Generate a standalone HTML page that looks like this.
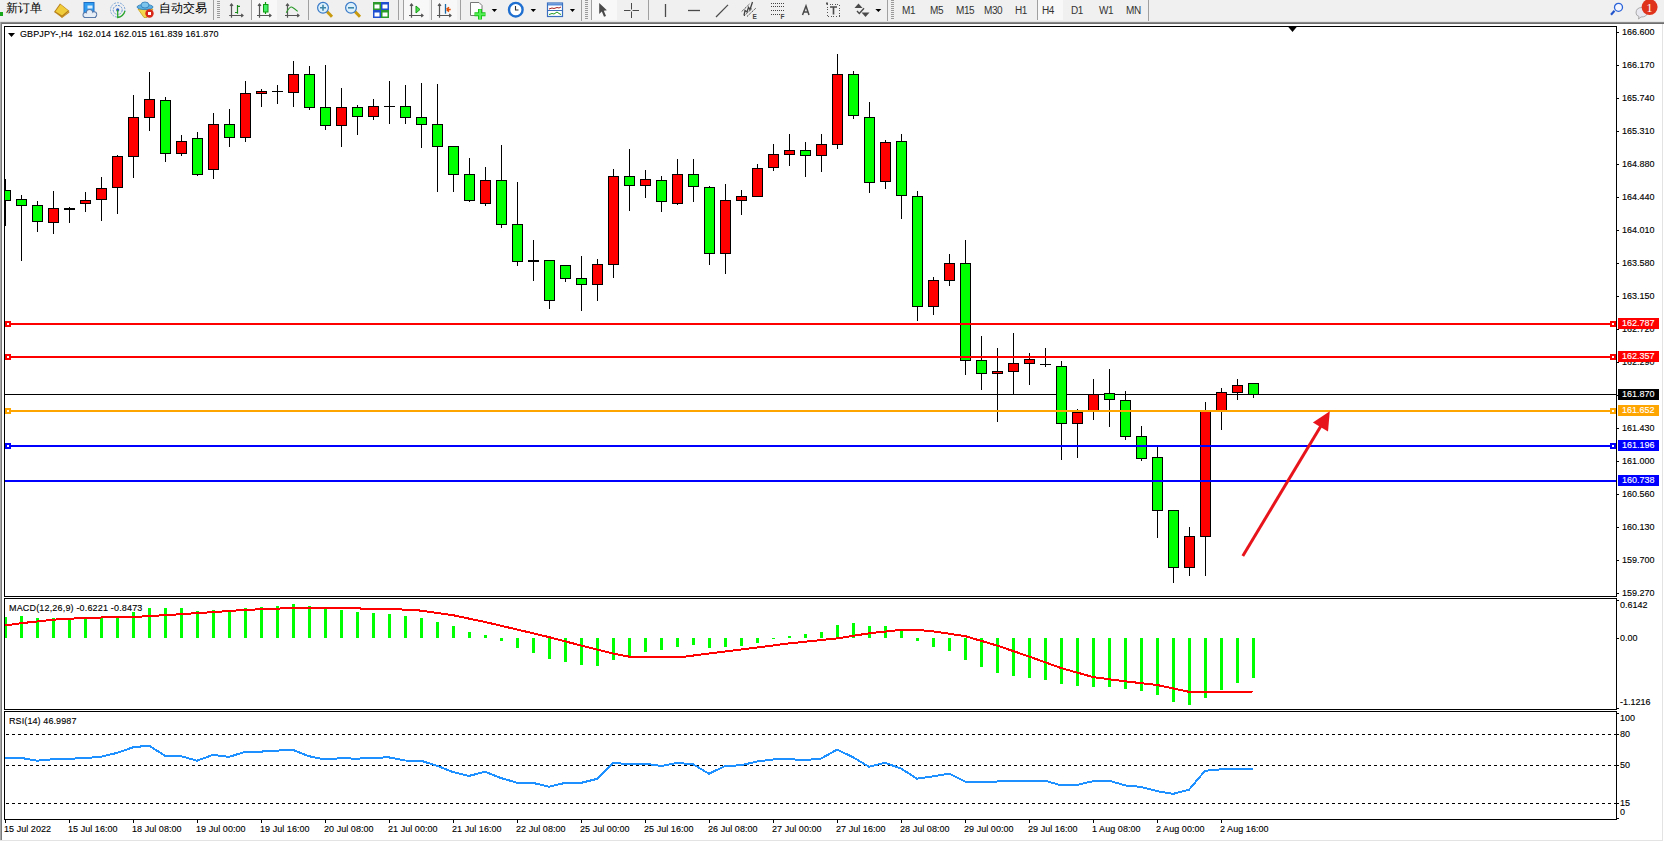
<!DOCTYPE html>
<html><head><meta charset="utf-8"><style>
html,body{margin:0;padding:0;}
body{width:1664px;height:842px;position:relative;overflow:hidden;background:#fff;font-family:"Liberation Sans",sans-serif;}
.t{position:absolute;white-space:nowrap;font-size:9px;line-height:12px;color:#000;-webkit-text-stroke:0.12px currentColor;transform:scaleY(1.06);transform-origin:0 0;}
.tag{position:absolute;left:1618px;width:41px;height:11px;font-size:10px;line-height:11px;letter-spacing:-0.5px;text-align:left;padding-left:4px;-webkit-text-stroke:0.25px currentColor;box-sizing:border-box;white-space:nowrap;}
#tb{position:absolute;left:0;top:0;width:1664px;height:22px;background:#F0F0F0;}
.tt{position:absolute;top:5px;font-size:10px;line-height:12px;letter-spacing:-0.4px;color:#333;white-space:nowrap;}
</style></head><body>
<div style="position:absolute;left:0;top:22px;width:1664px;height:1px;background:#8a8a8a"></div>
<div style="position:absolute;left:0;top:23px;width:1664px;height:1px;background:#6e6e6e"></div>
<div style="position:absolute;left:0;top:22px;width:1px;height:818px;background:#a8a8a8"></div>
<div style="position:absolute;left:1px;top:23px;width:1px;height:817px;background:#7a7a7a"></div>
<div style="position:absolute;left:1662px;top:24px;width:1px;height:817px;background:#e3e3e3"></div>
<div style="position:absolute;left:0;top:840px;width:1663px;height:1px;background:#e3e3e3"></div>
<svg width="1664" height="842" style="position:absolute;left:0;top:0">
<defs><clipPath id="cm"><rect x="5" y="27" width="1611" height="569"/></clipPath><clipPath id="cd"><rect x="5" y="599" width="1611" height="110"/></clipPath><clipPath id="cr"><rect x="5" y="712" width="1611" height="107"/></clipPath></defs>
<rect x="4.5" y="26.5" width="1612" height="570" fill="#fff" stroke="#000" stroke-width="1"/>
<rect x="4.5" y="598.5" width="1612" height="111" fill="#fff" stroke="#000" stroke-width="1"/>
<rect x="4.5" y="711.5" width="1612" height="108" fill="#fff" stroke="#000" stroke-width="1"/>
<g clip-path="url(#cm)" shape-rendering="crispEdges">
<rect x="5" y="394" width="1611" height="1" fill="#000"/>
<rect x="5" y="179" width="1" height="47" fill="#000"/>
<rect x="0" y="190" width="11" height="11" fill="#000"/>
<rect x="1" y="191" width="9" height="9" fill="#00FF00"/>
<rect x="21" y="195" width="1" height="66" fill="#000"/>
<rect x="16" y="199" width="11" height="7" fill="#000"/>
<rect x="17" y="200" width="9" height="5" fill="#00FF00"/>
<rect x="37" y="201" width="1" height="31" fill="#000"/>
<rect x="32" y="205" width="11" height="17" fill="#000"/>
<rect x="33" y="206" width="9" height="15" fill="#00FF00"/>
<rect x="53" y="191" width="1" height="43" fill="#000"/>
<rect x="48" y="208" width="11" height="15" fill="#000"/>
<rect x="49" y="209" width="9" height="13" fill="#FF0000"/>
<rect x="69" y="207" width="1" height="16" fill="#000"/>
<rect x="64" y="208" width="11" height="2" fill="#000"/>
<rect x="85" y="192" width="1" height="20" fill="#000"/>
<rect x="80" y="200" width="11" height="4" fill="#000"/>
<rect x="81" y="201" width="9" height="2" fill="#FF0000"/>
<rect x="101" y="177" width="1" height="44" fill="#000"/>
<rect x="96" y="188" width="11" height="12" fill="#000"/>
<rect x="97" y="189" width="9" height="10" fill="#FF0000"/>
<rect x="117" y="155" width="1" height="59" fill="#000"/>
<rect x="112" y="156" width="11" height="32" fill="#000"/>
<rect x="113" y="157" width="9" height="30" fill="#FF0000"/>
<rect x="133" y="95" width="1" height="83" fill="#000"/>
<rect x="128" y="117" width="11" height="40" fill="#000"/>
<rect x="129" y="118" width="9" height="38" fill="#FF0000"/>
<rect x="149" y="72" width="1" height="59" fill="#000"/>
<rect x="144" y="99" width="11" height="19" fill="#000"/>
<rect x="145" y="100" width="9" height="17" fill="#FF0000"/>
<rect x="165" y="97" width="1" height="65" fill="#000"/>
<rect x="160" y="100" width="11" height="54" fill="#000"/>
<rect x="161" y="101" width="9" height="52" fill="#00FF00"/>
<rect x="181" y="135" width="1" height="21" fill="#000"/>
<rect x="176" y="141" width="11" height="13" fill="#000"/>
<rect x="177" y="142" width="9" height="11" fill="#FF0000"/>
<rect x="197" y="132" width="1" height="44" fill="#000"/>
<rect x="192" y="138" width="11" height="37" fill="#000"/>
<rect x="193" y="139" width="9" height="35" fill="#00FF00"/>
<rect x="213" y="113" width="1" height="66" fill="#000"/>
<rect x="208" y="124" width="11" height="46" fill="#000"/>
<rect x="209" y="125" width="9" height="44" fill="#FF0000"/>
<rect x="229" y="109" width="1" height="38" fill="#000"/>
<rect x="224" y="124" width="11" height="14" fill="#000"/>
<rect x="225" y="125" width="9" height="12" fill="#00FF00"/>
<rect x="245" y="81" width="1" height="61" fill="#000"/>
<rect x="240" y="93" width="11" height="45" fill="#000"/>
<rect x="241" y="94" width="9" height="43" fill="#FF0000"/>
<rect x="261" y="89" width="1" height="18" fill="#000"/>
<rect x="256" y="91" width="11" height="3" fill="#000"/>
<rect x="257" y="92" width="9" height="1" fill="#FF0000"/>
<rect x="277" y="85" width="1" height="19" fill="#000"/>
<rect x="272" y="91" width="11" height="1" fill="#000"/>
<rect x="293" y="61" width="1" height="46" fill="#000"/>
<rect x="288" y="74" width="11" height="19" fill="#000"/>
<rect x="289" y="75" width="9" height="17" fill="#FF0000"/>
<rect x="309" y="66" width="1" height="44" fill="#000"/>
<rect x="304" y="74" width="11" height="34" fill="#000"/>
<rect x="305" y="75" width="9" height="32" fill="#00FF00"/>
<rect x="325" y="65" width="1" height="65" fill="#000"/>
<rect x="320" y="107" width="11" height="19" fill="#000"/>
<rect x="321" y="108" width="9" height="17" fill="#00FF00"/>
<rect x="341" y="88" width="1" height="59" fill="#000"/>
<rect x="336" y="107" width="11" height="19" fill="#000"/>
<rect x="337" y="108" width="9" height="17" fill="#FF0000"/>
<rect x="357" y="105" width="1" height="30" fill="#000"/>
<rect x="352" y="107" width="11" height="10" fill="#000"/>
<rect x="353" y="108" width="9" height="8" fill="#00FF00"/>
<rect x="373" y="99" width="1" height="21" fill="#000"/>
<rect x="368" y="106" width="11" height="11" fill="#000"/>
<rect x="369" y="107" width="9" height="9" fill="#FF0000"/>
<rect x="389" y="81" width="1" height="43" fill="#000"/>
<rect x="384" y="106" width="11" height="1" fill="#000"/>
<rect x="405" y="85" width="1" height="39" fill="#000"/>
<rect x="400" y="106" width="11" height="12" fill="#000"/>
<rect x="401" y="107" width="9" height="10" fill="#00FF00"/>
<rect x="421" y="83" width="1" height="65" fill="#000"/>
<rect x="416" y="117" width="11" height="8" fill="#000"/>
<rect x="417" y="118" width="9" height="6" fill="#00FF00"/>
<rect x="437" y="84" width="1" height="108" fill="#000"/>
<rect x="432" y="124" width="11" height="23" fill="#000"/>
<rect x="433" y="125" width="9" height="21" fill="#00FF00"/>
<rect x="453" y="146" width="1" height="46" fill="#000"/>
<rect x="448" y="146" width="11" height="29" fill="#000"/>
<rect x="449" y="147" width="9" height="27" fill="#00FF00"/>
<rect x="469" y="158" width="1" height="44" fill="#000"/>
<rect x="464" y="174" width="11" height="27" fill="#000"/>
<rect x="465" y="175" width="9" height="25" fill="#00FF00"/>
<rect x="485" y="167" width="1" height="39" fill="#000"/>
<rect x="480" y="180" width="11" height="24" fill="#000"/>
<rect x="481" y="181" width="9" height="22" fill="#FF0000"/>
<rect x="501" y="145" width="1" height="83" fill="#000"/>
<rect x="496" y="180" width="11" height="45" fill="#000"/>
<rect x="497" y="181" width="9" height="43" fill="#00FF00"/>
<rect x="517" y="182" width="1" height="84" fill="#000"/>
<rect x="512" y="224" width="11" height="38" fill="#000"/>
<rect x="513" y="225" width="9" height="36" fill="#00FF00"/>
<rect x="533" y="240" width="1" height="41" fill="#000"/>
<rect x="528" y="260" width="11" height="2" fill="#000"/>
<rect x="549" y="260" width="1" height="49" fill="#000"/>
<rect x="544" y="260" width="11" height="41" fill="#000"/>
<rect x="545" y="261" width="9" height="39" fill="#00FF00"/>
<rect x="565" y="265" width="1" height="17" fill="#000"/>
<rect x="560" y="265" width="11" height="14" fill="#000"/>
<rect x="561" y="266" width="9" height="12" fill="#00FF00"/>
<rect x="581" y="256" width="1" height="55" fill="#000"/>
<rect x="576" y="278" width="11" height="7" fill="#000"/>
<rect x="577" y="279" width="9" height="5" fill="#00FF00"/>
<rect x="597" y="259" width="1" height="42" fill="#000"/>
<rect x="592" y="264" width="11" height="21" fill="#000"/>
<rect x="593" y="265" width="9" height="19" fill="#FF0000"/>
<rect x="613" y="169" width="1" height="109" fill="#000"/>
<rect x="608" y="176" width="11" height="89" fill="#000"/>
<rect x="609" y="177" width="9" height="87" fill="#FF0000"/>
<rect x="629" y="149" width="1" height="62" fill="#000"/>
<rect x="624" y="176" width="11" height="10" fill="#000"/>
<rect x="625" y="177" width="9" height="8" fill="#00FF00"/>
<rect x="645" y="170" width="1" height="28" fill="#000"/>
<rect x="640" y="179" width="11" height="7" fill="#000"/>
<rect x="641" y="180" width="9" height="5" fill="#FF0000"/>
<rect x="661" y="176" width="1" height="36" fill="#000"/>
<rect x="656" y="180" width="11" height="22" fill="#000"/>
<rect x="657" y="181" width="9" height="20" fill="#00FF00"/>
<rect x="677" y="159" width="1" height="46" fill="#000"/>
<rect x="672" y="174" width="11" height="30" fill="#000"/>
<rect x="673" y="175" width="9" height="28" fill="#FF0000"/>
<rect x="693" y="159" width="1" height="43" fill="#000"/>
<rect x="688" y="174" width="11" height="13" fill="#000"/>
<rect x="689" y="175" width="9" height="11" fill="#00FF00"/>
<rect x="709" y="186" width="1" height="79" fill="#000"/>
<rect x="704" y="187" width="11" height="67" fill="#000"/>
<rect x="705" y="188" width="9" height="65" fill="#00FF00"/>
<rect x="725" y="184" width="1" height="90" fill="#000"/>
<rect x="720" y="200" width="11" height="54" fill="#000"/>
<rect x="721" y="201" width="9" height="52" fill="#FF0000"/>
<rect x="741" y="190" width="1" height="25" fill="#000"/>
<rect x="736" y="196" width="11" height="5" fill="#000"/>
<rect x="737" y="197" width="9" height="3" fill="#FF0000"/>
<rect x="757" y="164" width="1" height="33" fill="#000"/>
<rect x="752" y="168" width="11" height="29" fill="#000"/>
<rect x="753" y="169" width="9" height="27" fill="#FF0000"/>
<rect x="773" y="144" width="1" height="27" fill="#000"/>
<rect x="768" y="154" width="11" height="14" fill="#000"/>
<rect x="769" y="155" width="9" height="12" fill="#FF0000"/>
<rect x="789" y="134" width="1" height="32" fill="#000"/>
<rect x="784" y="150" width="11" height="5" fill="#000"/>
<rect x="785" y="151" width="9" height="3" fill="#FF0000"/>
<rect x="805" y="142" width="1" height="35" fill="#000"/>
<rect x="800" y="150" width="11" height="6" fill="#000"/>
<rect x="801" y="151" width="9" height="4" fill="#00FF00"/>
<rect x="821" y="134" width="1" height="38" fill="#000"/>
<rect x="816" y="144" width="11" height="12" fill="#000"/>
<rect x="817" y="145" width="9" height="10" fill="#FF0000"/>
<rect x="837" y="54" width="1" height="95" fill="#000"/>
<rect x="832" y="74" width="11" height="71" fill="#000"/>
<rect x="833" y="75" width="9" height="69" fill="#FF0000"/>
<rect x="853" y="71" width="1" height="48" fill="#000"/>
<rect x="848" y="74" width="11" height="42" fill="#000"/>
<rect x="849" y="75" width="9" height="40" fill="#00FF00"/>
<rect x="869" y="102" width="1" height="91" fill="#000"/>
<rect x="864" y="117" width="11" height="66" fill="#000"/>
<rect x="865" y="118" width="9" height="64" fill="#00FF00"/>
<rect x="885" y="140" width="1" height="49" fill="#000"/>
<rect x="880" y="142" width="11" height="40" fill="#000"/>
<rect x="881" y="143" width="9" height="38" fill="#FF0000"/>
<rect x="901" y="134" width="1" height="85" fill="#000"/>
<rect x="896" y="141" width="11" height="55" fill="#000"/>
<rect x="897" y="142" width="9" height="53" fill="#00FF00"/>
<rect x="917" y="191" width="1" height="130" fill="#000"/>
<rect x="912" y="196" width="11" height="111" fill="#000"/>
<rect x="913" y="197" width="9" height="109" fill="#00FF00"/>
<rect x="933" y="277" width="1" height="38" fill="#000"/>
<rect x="928" y="280" width="11" height="27" fill="#000"/>
<rect x="929" y="281" width="9" height="25" fill="#FF0000"/>
<rect x="949" y="254" width="1" height="32" fill="#000"/>
<rect x="944" y="263" width="11" height="18" fill="#000"/>
<rect x="945" y="264" width="9" height="16" fill="#FF0000"/>
<rect x="965" y="240" width="1" height="135" fill="#000"/>
<rect x="960" y="263" width="11" height="98" fill="#000"/>
<rect x="961" y="264" width="9" height="96" fill="#00FF00"/>
<rect x="981" y="336" width="1" height="54" fill="#000"/>
<rect x="976" y="360" width="11" height="14" fill="#000"/>
<rect x="977" y="361" width="9" height="12" fill="#00FF00"/>
<rect x="997" y="348" width="1" height="74" fill="#000"/>
<rect x="992" y="371" width="11" height="3" fill="#000"/>
<rect x="993" y="372" width="9" height="1" fill="#FF0000"/>
<rect x="1013" y="333" width="1" height="62" fill="#000"/>
<rect x="1008" y="363" width="11" height="9" fill="#000"/>
<rect x="1009" y="364" width="9" height="7" fill="#FF0000"/>
<rect x="1029" y="353" width="1" height="32" fill="#000"/>
<rect x="1024" y="359" width="11" height="5" fill="#000"/>
<rect x="1025" y="360" width="9" height="3" fill="#FF0000"/>
<rect x="1045" y="348" width="1" height="19" fill="#000"/>
<rect x="1040" y="364" width="11" height="1" fill="#000"/>
<rect x="1061" y="361" width="1" height="99" fill="#000"/>
<rect x="1056" y="366" width="11" height="58" fill="#000"/>
<rect x="1057" y="367" width="9" height="56" fill="#00FF00"/>
<rect x="1077" y="409" width="1" height="49" fill="#000"/>
<rect x="1072" y="412" width="11" height="12" fill="#000"/>
<rect x="1073" y="413" width="9" height="10" fill="#FF0000"/>
<rect x="1093" y="379" width="1" height="41" fill="#000"/>
<rect x="1088" y="394" width="11" height="17" fill="#000"/>
<rect x="1089" y="395" width="9" height="15" fill="#FF0000"/>
<rect x="1109" y="369" width="1" height="58" fill="#000"/>
<rect x="1104" y="393" width="11" height="7" fill="#000"/>
<rect x="1105" y="394" width="9" height="5" fill="#00FF00"/>
<rect x="1125" y="391" width="1" height="49" fill="#000"/>
<rect x="1120" y="400" width="11" height="37" fill="#000"/>
<rect x="1121" y="401" width="9" height="35" fill="#00FF00"/>
<rect x="1141" y="426" width="1" height="35" fill="#000"/>
<rect x="1136" y="436" width="11" height="23" fill="#000"/>
<rect x="1137" y="437" width="9" height="21" fill="#00FF00"/>
<rect x="1157" y="447" width="1" height="91" fill="#000"/>
<rect x="1152" y="457" width="11" height="54" fill="#000"/>
<rect x="1153" y="458" width="9" height="52" fill="#00FF00"/>
<rect x="1173" y="510" width="1" height="73" fill="#000"/>
<rect x="1168" y="510" width="11" height="58" fill="#000"/>
<rect x="1169" y="511" width="9" height="56" fill="#00FF00"/>
<rect x="1189" y="527" width="1" height="49" fill="#000"/>
<rect x="1184" y="536" width="11" height="32" fill="#000"/>
<rect x="1185" y="537" width="9" height="30" fill="#FF0000"/>
<rect x="1205" y="402" width="1" height="174" fill="#000"/>
<rect x="1200" y="411" width="11" height="126" fill="#000"/>
<rect x="1201" y="412" width="9" height="124" fill="#FF0000"/>
<rect x="1221" y="388" width="1" height="42" fill="#000"/>
<rect x="1216" y="392" width="11" height="19" fill="#000"/>
<rect x="1217" y="393" width="9" height="17" fill="#FF0000"/>
<rect x="1237" y="379" width="1" height="21" fill="#000"/>
<rect x="1232" y="385" width="11" height="8" fill="#000"/>
<rect x="1233" y="386" width="9" height="6" fill="#FF0000"/>
<rect x="1253" y="383" width="1" height="15" fill="#000"/>
<rect x="1248" y="383" width="11" height="12" fill="#000"/>
<rect x="1249" y="384" width="9" height="10" fill="#00FF00"/>
<rect x="5" y="323" width="1611" height="2" fill="#FF0000"/>
<rect x="5" y="356" width="1611" height="2" fill="#FF0000"/>
<rect x="5" y="410" width="1611" height="2" fill="#FFA500"/>
<rect x="5" y="445" width="1611" height="2" fill="#0000FF"/>
<rect x="5" y="480" width="1611" height="2" fill="#0000FF"/>
<rect x="5" y="321" width="6" height="6" fill="#FF0000"/><rect x="7" y="323" width="2" height="2" fill="#fff"/>
<rect x="1610" y="321" width="6" height="6" fill="#FF0000"/><rect x="1612" y="323" width="2" height="2" fill="#fff"/>
<rect x="5" y="354" width="6" height="6" fill="#FF0000"/><rect x="7" y="356" width="2" height="2" fill="#fff"/>
<rect x="1610" y="354" width="6" height="6" fill="#FF0000"/><rect x="1612" y="356" width="2" height="2" fill="#fff"/>
<rect x="5" y="408" width="6" height="6" fill="#FFA500"/><rect x="7" y="410" width="2" height="2" fill="#fff"/>
<rect x="1610" y="408" width="6" height="6" fill="#FFA500"/><rect x="1612" y="410" width="2" height="2" fill="#fff"/>
<rect x="5" y="443" width="6" height="6" fill="#0000FF"/><rect x="7" y="445" width="2" height="2" fill="#fff"/>
<rect x="1610" y="443" width="6" height="6" fill="#0000FF"/><rect x="1612" y="445" width="2" height="2" fill="#fff"/>
</g>
<polygon points="1287.5,26 1297.5,26 1292.5,32" fill="#000"/>
<g clip-path="url(#cm)">
<line x1="1242.8" y1="556" x2="1321.5" y2="425" stroke="#E8141C" stroke-width="3"/>
<polygon points="1329.8,411.2 1312.9,422.4 1328,431.5" fill="#E8141C"/>
</g>
<polygon points="8,33 15,33 11.5,37" fill="#000"/>
<g clip-path="url(#cd)">
<g shape-rendering="crispEdges">
<rect x="4" y="617" width="3" height="21" fill="#00FF00"/>
<rect x="20" y="616" width="3" height="22" fill="#00FF00"/>
<rect x="36" y="618" width="3" height="20" fill="#00FF00"/>
<rect x="52" y="618" width="3" height="20" fill="#00FF00"/>
<rect x="68" y="620" width="3" height="18" fill="#00FF00"/>
<rect x="84" y="619" width="3" height="19" fill="#00FF00"/>
<rect x="100" y="618" width="3" height="20" fill="#00FF00"/>
<rect x="116" y="616" width="3" height="22" fill="#00FF00"/>
<rect x="132" y="612" width="3" height="26" fill="#00FF00"/>
<rect x="148" y="608" width="3" height="30" fill="#00FF00"/>
<rect x="164" y="608" width="3" height="30" fill="#00FF00"/>
<rect x="180" y="608" width="3" height="30" fill="#00FF00"/>
<rect x="196" y="611" width="3" height="27" fill="#00FF00"/>
<rect x="212" y="610" width="3" height="28" fill="#00FF00"/>
<rect x="228" y="611" width="3" height="27" fill="#00FF00"/>
<rect x="244" y="608" width="3" height="30" fill="#00FF00"/>
<rect x="260" y="607" width="3" height="31" fill="#00FF00"/>
<rect x="276" y="606" width="3" height="32" fill="#00FF00"/>
<rect x="292" y="604" width="3" height="34" fill="#00FF00"/>
<rect x="308" y="606" width="3" height="32" fill="#00FF00"/>
<rect x="324" y="608" width="3" height="30" fill="#00FF00"/>
<rect x="340" y="610" width="3" height="28" fill="#00FF00"/>
<rect x="356" y="612" width="3" height="26" fill="#00FF00"/>
<rect x="372" y="613" width="3" height="25" fill="#00FF00"/>
<rect x="388" y="614" width="3" height="24" fill="#00FF00"/>
<rect x="404" y="616" width="3" height="22" fill="#00FF00"/>
<rect x="420" y="618" width="3" height="20" fill="#00FF00"/>
<rect x="436" y="622" width="3" height="16" fill="#00FF00"/>
<rect x="452" y="626" width="3" height="12" fill="#00FF00"/>
<rect x="468" y="632" width="3" height="6" fill="#00FF00"/>
<rect x="484" y="635" width="3" height="3" fill="#00FF00"/>
<rect x="500" y="638" width="3" height="3" fill="#00FF00"/>
<rect x="516" y="638" width="3" height="10" fill="#00FF00"/>
<rect x="532" y="638" width="3" height="15" fill="#00FF00"/>
<rect x="548" y="638" width="3" height="21" fill="#00FF00"/>
<rect x="564" y="638" width="3" height="24" fill="#00FF00"/>
<rect x="580" y="638" width="3" height="27" fill="#00FF00"/>
<rect x="596" y="638" width="3" height="28" fill="#00FF00"/>
<rect x="612" y="638" width="3" height="22" fill="#00FF00"/>
<rect x="628" y="638" width="3" height="18" fill="#00FF00"/>
<rect x="644" y="638" width="3" height="14" fill="#00FF00"/>
<rect x="660" y="638" width="3" height="12" fill="#00FF00"/>
<rect x="676" y="638" width="3" height="9" fill="#00FF00"/>
<rect x="692" y="638" width="3" height="7" fill="#00FF00"/>
<rect x="708" y="638" width="3" height="10" fill="#00FF00"/>
<rect x="724" y="638" width="3" height="9" fill="#00FF00"/>
<rect x="740" y="638" width="3" height="8" fill="#00FF00"/>
<rect x="756" y="638" width="3" height="5" fill="#00FF00"/>
<rect x="772" y="638" width="3" height="1" fill="#00FF00"/>
<rect x="788" y="636" width="3" height="2" fill="#00FF00"/>
<rect x="804" y="634" width="3" height="4" fill="#00FF00"/>
<rect x="820" y="632" width="3" height="6" fill="#00FF00"/>
<rect x="836" y="625" width="3" height="13" fill="#00FF00"/>
<rect x="852" y="623" width="3" height="15" fill="#00FF00"/>
<rect x="868" y="626" width="3" height="12" fill="#00FF00"/>
<rect x="884" y="626" width="3" height="12" fill="#00FF00"/>
<rect x="900" y="630" width="3" height="8" fill="#00FF00"/>
<rect x="916" y="638" width="3" height="3" fill="#00FF00"/>
<rect x="932" y="638" width="3" height="9" fill="#00FF00"/>
<rect x="948" y="638" width="3" height="13" fill="#00FF00"/>
<rect x="964" y="638" width="3" height="22" fill="#00FF00"/>
<rect x="980" y="638" width="3" height="29" fill="#00FF00"/>
<rect x="996" y="638" width="3" height="35" fill="#00FF00"/>
<rect x="1012" y="638" width="3" height="38" fill="#00FF00"/>
<rect x="1028" y="638" width="3" height="40" fill="#00FF00"/>
<rect x="1044" y="638" width="3" height="42" fill="#00FF00"/>
<rect x="1060" y="638" width="3" height="46" fill="#00FF00"/>
<rect x="1076" y="638" width="3" height="48" fill="#00FF00"/>
<rect x="1092" y="638" width="3" height="49" fill="#00FF00"/>
<rect x="1108" y="638" width="3" height="49" fill="#00FF00"/>
<rect x="1124" y="638" width="3" height="51" fill="#00FF00"/>
<rect x="1140" y="638" width="3" height="53" fill="#00FF00"/>
<rect x="1156" y="638" width="3" height="57" fill="#00FF00"/>
<rect x="1172" y="638" width="3" height="64" fill="#00FF00"/>
<rect x="1188" y="638" width="3" height="67" fill="#00FF00"/>
<rect x="1204" y="638" width="3" height="60" fill="#00FF00"/>
<rect x="1220" y="638" width="3" height="52" fill="#00FF00"/>
<rect x="1236" y="638" width="3" height="45" fill="#00FF00"/>
<rect x="1252" y="638" width="3" height="40" fill="#00FF00"/>
</g>
<polyline points="5,625.5 21,623.2 37,621.5 53,619.7 69,618.7 101,617.5 133,617 165,615.2 213,612.1 245,609.9 293,608 373,608.6 405,609.6 421,610.6 453,615.2 485,622 517,629.5 549,637.1 581,645.5 613,653.5 629,656.6 685,656.6 725,651.5 757,647.5 789,643.4 837,638.4 869,633.3 901,629.9 917,629.9 933,631.3 965,636.1 997,645.5 1029,656.5 1061,668 1093,677.1 1125,681.3 1157,685 1189,691.8 1237,691.8 1253,691.5" fill="none" stroke="#FF0000" stroke-width="2" shape-rendering="crispEdges"/>
</g>
<g clip-path="url(#cr)">
<g shape-rendering="crispEdges">
<line x1="6" y1="734.5" x2="1616" y2="734.5" stroke="#000" stroke-width="1" stroke-dasharray="3,3"/>
<line x1="6" y1="765.5" x2="1616" y2="765.5" stroke="#000" stroke-width="1" stroke-dasharray="3,3"/>
<line x1="6" y1="803.5" x2="1616" y2="803.5" stroke="#000" stroke-width="1" stroke-dasharray="3,3"/>
</g>
<polyline points="5,757.9 21,757.9 37,760.7 53,759.2 69,758.7 85,758.2 101,756.7 117,752.9 133,747.3 149,745.6 165,755.7 181,756.2 197,760.7 213,754.9 229,756.9 245,751.9 261,751.6 277,750.6 293,749.9 309,756.2 325,759.5 341,758.2 357,758.7 373,757.7 389,757.4 405,760.5 421,760.7 437,765.8 453,772.1 469,775.9 485,771.8 501,778.1 517,782.7 533,782.9 549,786.7 565,782.9 581,782.9 597,778.9 613,763 629,764 645,763.7 661,766 677,763 693,764.2 709,773.8 725,766 741,765.3 757,761.5 773,759.5 789,759.2 805,760 821,758.6 837,749.6 853,757.2 869,766.8 885,762.8 901,768.5 917,778.7 933,776.4 949,773.6 965,781.5 981,781.5 997,781.5 1013,780.6 1029,780.6 1045,780.6 1061,785.4 1077,784.9 1093,781.2 1109,780.6 1125,785.4 1141,786.9 1157,791.1 1173,793.9 1189,789.7 1205,770.8 1221,769.3 1237,768.8 1253,768.8" fill="none" stroke="#1E90FF" stroke-width="2" shape-rendering="crispEdges"/>
</g>
<g shape-rendering="crispEdges">
<rect x="1617" y="32" width="2" height="1" fill="#000"/>
<rect x="1617" y="65" width="2" height="1" fill="#000"/>
<rect x="1617" y="98" width="2" height="1" fill="#000"/>
<rect x="1617" y="131" width="2" height="1" fill="#000"/>
<rect x="1617" y="164" width="2" height="1" fill="#000"/>
<rect x="1617" y="197" width="2" height="1" fill="#000"/>
<rect x="1617" y="230" width="2" height="1" fill="#000"/>
<rect x="1617" y="263" width="2" height="1" fill="#000"/>
<rect x="1617" y="296" width="2" height="1" fill="#000"/>
<rect x="1617" y="329" width="2" height="1" fill="#000"/>
<rect x="1617" y="362" width="2" height="1" fill="#000"/>
<rect x="1617" y="395" width="2" height="1" fill="#000"/>
<rect x="1617" y="428" width="2" height="1" fill="#000"/>
<rect x="1617" y="461" width="2" height="1" fill="#000"/>
<rect x="1617" y="494" width="2" height="1" fill="#000"/>
<rect x="1617" y="527" width="2" height="1" fill="#000"/>
<rect x="1617" y="560" width="2" height="1" fill="#000"/>
<rect x="1617" y="593" width="2" height="1" fill="#000"/>
<rect x="1617" y="600" width="2" height="1" fill="#000"/>
<rect x="1617" y="638" width="2" height="1" fill="#000"/>
<rect x="1617" y="708" width="2" height="1" fill="#000"/>
<rect x="1617" y="713" width="2" height="1" fill="#000"/>
<rect x="1617" y="734" width="2" height="1" fill="#000"/>
<rect x="1617" y="765" width="2" height="1" fill="#000"/>
<rect x="1617" y="803" width="2" height="1" fill="#000"/>
<rect x="1617" y="818" width="2" height="1" fill="#000"/>
<rect x="5" y="820" width="1" height="3" fill="#000"/>
<rect x="69" y="820" width="1" height="3" fill="#000"/>
<rect x="133" y="820" width="1" height="3" fill="#000"/>
<rect x="197" y="820" width="1" height="3" fill="#000"/>
<rect x="261" y="820" width="1" height="3" fill="#000"/>
<rect x="325" y="820" width="1" height="3" fill="#000"/>
<rect x="389" y="820" width="1" height="3" fill="#000"/>
<rect x="453" y="820" width="1" height="3" fill="#000"/>
<rect x="517" y="820" width="1" height="3" fill="#000"/>
<rect x="581" y="820" width="1" height="3" fill="#000"/>
<rect x="645" y="820" width="1" height="3" fill="#000"/>
<rect x="709" y="820" width="1" height="3" fill="#000"/>
<rect x="773" y="820" width="1" height="3" fill="#000"/>
<rect x="837" y="820" width="1" height="3" fill="#000"/>
<rect x="901" y="820" width="1" height="3" fill="#000"/>
<rect x="965" y="820" width="1" height="3" fill="#000"/>
<rect x="1029" y="820" width="1" height="3" fill="#000"/>
<rect x="1093" y="820" width="1" height="3" fill="#000"/>
<rect x="1157" y="820" width="1" height="3" fill="#000"/>
<rect x="1221" y="820" width="1" height="3" fill="#000"/>
</g>
</svg>
<div class="t" style="left:1622px;top:25px;color:#000;letter-spacing:0px;font-size:9px">166.600</div>
<div class="t" style="left:1622px;top:58px;color:#000;letter-spacing:0px;font-size:9px">166.170</div>
<div class="t" style="left:1622px;top:91px;color:#000;letter-spacing:0px;font-size:9px">165.740</div>
<div class="t" style="left:1622px;top:124px;color:#000;letter-spacing:0px;font-size:9px">165.310</div>
<div class="t" style="left:1622px;top:157px;color:#000;letter-spacing:0px;font-size:9px">164.880</div>
<div class="t" style="left:1622px;top:190px;color:#000;letter-spacing:0px;font-size:9px">164.440</div>
<div class="t" style="left:1622px;top:223px;color:#000;letter-spacing:0px;font-size:9px">164.010</div>
<div class="t" style="left:1622px;top:256px;color:#000;letter-spacing:0px;font-size:9px">163.580</div>
<div class="t" style="left:1622px;top:289px;color:#000;letter-spacing:0px;font-size:9px">163.150</div>
<div class="t" style="left:1622px;top:322px;color:#000;letter-spacing:0px;font-size:9px">162.720</div>
<div class="t" style="left:1622px;top:355px;color:#000;letter-spacing:0px;font-size:9px">162.290</div>
<div class="t" style="left:1622px;top:388px;color:#000;letter-spacing:0px;font-size:9px">161.870</div>
<div class="t" style="left:1622px;top:421px;color:#000;letter-spacing:0px;font-size:9px">161.430</div>
<div class="t" style="left:1622px;top:454px;color:#000;letter-spacing:0px;font-size:9px">161.000</div>
<div class="t" style="left:1622px;top:487px;color:#000;letter-spacing:0px;font-size:9px">160.560</div>
<div class="t" style="left:1622px;top:520px;color:#000;letter-spacing:0px;font-size:9px">160.130</div>
<div class="t" style="left:1622px;top:553px;color:#000;letter-spacing:0px;font-size:9px">159.700</div>
<div class="t" style="left:1622px;top:586px;color:#000;letter-spacing:0px;font-size:9px">159.270</div>
<div class="t" style="left:4px;top:822px;color:#000;letter-spacing:0.05px;font-size:9px">15 Jul 2022</div>
<div class="t" style="left:68px;top:822px;color:#000;letter-spacing:0.05px;font-size:9px">15 Jul 16:00</div>
<div class="t" style="left:132px;top:822px;color:#000;letter-spacing:0.05px;font-size:9px">18 Jul 08:00</div>
<div class="t" style="left:196px;top:822px;color:#000;letter-spacing:0.05px;font-size:9px">19 Jul 00:00</div>
<div class="t" style="left:260px;top:822px;color:#000;letter-spacing:0.05px;font-size:9px">19 Jul 16:00</div>
<div class="t" style="left:324px;top:822px;color:#000;letter-spacing:0.05px;font-size:9px">20 Jul 08:00</div>
<div class="t" style="left:388px;top:822px;color:#000;letter-spacing:0.05px;font-size:9px">21 Jul 00:00</div>
<div class="t" style="left:452px;top:822px;color:#000;letter-spacing:0.05px;font-size:9px">21 Jul 16:00</div>
<div class="t" style="left:516px;top:822px;color:#000;letter-spacing:0.05px;font-size:9px">22 Jul 08:00</div>
<div class="t" style="left:580px;top:822px;color:#000;letter-spacing:0.05px;font-size:9px">25 Jul 00:00</div>
<div class="t" style="left:644px;top:822px;color:#000;letter-spacing:0.05px;font-size:9px">25 Jul 16:00</div>
<div class="t" style="left:708px;top:822px;color:#000;letter-spacing:0.05px;font-size:9px">26 Jul 08:00</div>
<div class="t" style="left:772px;top:822px;color:#000;letter-spacing:0.05px;font-size:9px">27 Jul 00:00</div>
<div class="t" style="left:836px;top:822px;color:#000;letter-spacing:0.05px;font-size:9px">27 Jul 16:00</div>
<div class="t" style="left:900px;top:822px;color:#000;letter-spacing:0.05px;font-size:9px">28 Jul 08:00</div>
<div class="t" style="left:964px;top:822px;color:#000;letter-spacing:0.05px;font-size:9px">29 Jul 00:00</div>
<div class="t" style="left:1028px;top:822px;color:#000;letter-spacing:0.05px;font-size:9px">29 Jul 16:00</div>
<div class="t" style="left:1092px;top:822px;color:#000;letter-spacing:0.05px;font-size:9px">1 Aug 08:00</div>
<div class="t" style="left:1156px;top:822px;color:#000;letter-spacing:0.05px;font-size:9px">2 Aug 00:00</div>
<div class="t" style="left:1220px;top:822px;color:#000;letter-spacing:0.05px;font-size:9px">2 Aug 16:00</div>
<div class="t" style="left:1620px;top:598px;color:#000;letter-spacing:0px;font-size:9px">0.6142</div>
<div class="t" style="left:1620px;top:631px;color:#000;letter-spacing:0px;font-size:9px">0.00</div>
<div class="t" style="left:1620px;top:695px;color:#000;letter-spacing:0px;font-size:9px">-1.1216</div>
<div class="t" style="left:1620px;top:711px;color:#000;letter-spacing:0px;font-size:9px">100</div>
<div class="t" style="left:1620px;top:727px;color:#000;letter-spacing:0px;font-size:9px">80</div>
<div class="t" style="left:1620px;top:758px;color:#000;letter-spacing:0px;font-size:9px">50</div>
<div class="t" style="left:1620px;top:796px;color:#000;letter-spacing:0px;font-size:9px">15</div>
<div class="t" style="left:1620px;top:805px;color:#000;letter-spacing:0px;font-size:9px">0</div>
<div class="t" style="left:20px;top:27px;color:#000;letter-spacing:0.1px;font-size:9px">GBPJPY-,H4&nbsp;&nbsp;162.014 162.015 161.839 161.870</div>
<div class="t" style="left:9px;top:601px;color:#000;letter-spacing:0.17px;font-size:9px">MACD(12,26,9) -0.6221 -0.8473</div>
<div class="t" style="left:9px;top:714px;color:#000;letter-spacing:0.1px;font-size:9px">RSI(14) 46.9987</div>
<div class="tag" style="top:318px;background:#FF0000"></div>
<div class="t" style="left:1622px;top:316px;color:#fff;letter-spacing:0px;font-size:9px">162.787</div>
<div class="tag" style="top:351px;background:#FF0000"></div>
<div class="t" style="left:1622px;top:349px;color:#fff;letter-spacing:0px;font-size:9px">162.357</div>
<div class="tag" style="top:389px;background:#000"></div>
<div class="t" style="left:1622px;top:387px;color:#fff;letter-spacing:0px;font-size:9px">161.870</div>
<div class="tag" style="top:405px;background:#FFA500"></div>
<div class="t" style="left:1622px;top:403px;color:#fff;letter-spacing:0px;font-size:9px">161.652</div>
<div class="tag" style="top:440px;background:#0000FF"></div>
<div class="t" style="left:1622px;top:438px;color:#fff;letter-spacing:0px;font-size:9px">161.196</div>
<div class="tag" style="top:475px;background:#0000FF"></div>
<div class="t" style="left:1622px;top:473px;color:#fff;letter-spacing:0px;font-size:9px">160.738</div>
<div id="tb"></div>
<div style="position:absolute;left:0;top:21px;width:1664px;height:1px;background:#e4e4e4"></div>
<svg width="1664" height="22" style="position:absolute;left:0;top:0">
<!-- pressed button backgrounds -->
<g fill="#f8f8f8">
<rect x="252" y="0" width="25" height="20"/>
<rect x="404" y="0" width="25" height="20"/>
<rect x="432" y="0" width="25" height="20"/>
<rect x="592" y="0" width="25" height="20"/>
<rect x="1038" y="0" width="25" height="20"/>
</g>
<!-- separators -->
<g fill="#a0a0a0" shape-rendering="crispEdges">
<rect x="213" y="0" width="1" height="20"/>
<rect x="251" y="0" width="1" height="20"/>
<rect x="308" y="0" width="1" height="20"/>
<rect x="398" y="0" width="1" height="20"/>
<rect x="403" y="0" width="1" height="20"/>
<rect x="431" y="0" width="1" height="20"/>
<rect x="460" y="0" width="1" height="20"/>
<rect x="581" y="0" width="1" height="21"/>
<rect x="591" y="0" width="1" height="20"/>
<rect x="648" y="0" width="1" height="20"/>
<rect x="887" y="0" width="1" height="21"/>
<rect x="1037" y="0" width="1" height="20"/>
<rect x="1148" y="0" width="1" height="21"/>
</g>
<!-- grippers -->
<g fill="#9a9a9a" shape-rendering="crispEdges">
<rect x="217" y="1" width="3" height="1"/><rect x="217" y="3" width="3" height="1"/><rect x="217" y="5" width="3" height="1"/><rect x="217" y="7" width="3" height="1"/><rect x="217" y="9" width="3" height="1"/><rect x="217" y="11" width="3" height="1"/><rect x="217" y="13" width="3" height="1"/><rect x="217" y="15" width="3" height="1"/><rect x="217" y="17" width="3" height="1"/>
<rect x="585" y="0" width="3" height="1"/><rect x="585" y="2" width="3" height="1"/><rect x="585" y="4" width="3" height="1"/><rect x="585" y="6" width="3" height="1"/><rect x="585" y="8" width="3" height="1"/><rect x="585" y="10" width="3" height="1"/><rect x="585" y="12" width="3" height="1"/><rect x="585" y="14" width="3" height="1"/><rect x="585" y="16" width="3" height="1"/><rect x="585" y="18" width="3" height="1"/>
<rect x="891" y="0" width="3" height="1"/><rect x="891" y="2" width="3" height="1"/><rect x="891" y="4" width="3" height="1"/><rect x="891" y="6" width="3" height="1"/><rect x="891" y="8" width="3" height="1"/><rect x="891" y="10" width="3" height="1"/><rect x="891" y="12" width="3" height="1"/><rect x="891" y="14" width="3" height="1"/><rect x="891" y="16" width="3" height="1"/><rect x="891" y="18" width="3" height="1"/>
</g>
<!-- green partial icon at far left -->
<rect x="0" y="12" width="3" height="4" fill="#1aa81a"/>
<!-- book -->
<polygon points="54,12 60,3.5 69.5,11 62,17.5" fill="#b8801a"/>
<polygon points="55.5,11.5 60.5,4.5 68,10.5 62,15.5" fill="#f0cc3a"/>
<polygon points="56,13 62,17 69,11.5 69.5,12.5 62,18" fill="#c89020"/>
<!-- cloud database -->
<rect x="84" y="2.5" width="10" height="10.5" fill="#2e9cf0" stroke="#1a6fc4" stroke-width="1"/>
<rect x="87.5" y="5.5" width="5" height="3" fill="#d8eefc"/>
<g fill="#5a7aaa"><circle cx="85.5" cy="15" r="3"/><circle cx="89.5" cy="12.5" r="3.6"/><circle cx="94" cy="14.5" r="3.2"/><rect x="84" y="14" width="12" height="4"/></g>
<g fill="#e8eef6"><circle cx="85.5" cy="15" r="2"/><circle cx="89.5" cy="12.5" r="2.6"/><circle cx="94" cy="14.5" r="2.2"/><rect x="85" y="14" width="10" height="3"/></g>
<!-- signal -->
<circle cx="117.7" cy="9.9" r="7.2" fill="none" stroke="#7fa8d8" stroke-width="1" stroke-dasharray="2,1"/>
<circle cx="117.7" cy="9.9" r="4.5" fill="none" stroke="#5d8fd0" stroke-width="1" stroke-dasharray="2,1"/>
<circle cx="117.7" cy="9.9" r="1.6" fill="#2e5fc0"/>
<path d="M117.7,10 L117.7,17.5 Q123,17 125,11" fill="none" stroke="#2ea82e" stroke-width="1.3"/>
<!-- hat / auto trading -->
<polygon points="138,9 153,9 147,17.5 144,17.5" fill="#f2d84a" stroke="#c8a020" stroke-width="0.8"/>
<ellipse cx="145" cy="7" rx="8" ry="2.6" fill="#5ab0e0" stroke="#2c7ab8" stroke-width="0.8"/>
<ellipse cx="145" cy="5" rx="4" ry="3" fill="#7cc4ec" stroke="#2c7ab8" stroke-width="0.8"/>
<circle cx="149.5" cy="13.5" r="4.2" fill="#d82a1a"/>
<rect x="148" y="12" width="3" height="3" fill="#fff"/>
<!-- bar chart icon -->
<g stroke="#555" stroke-width="1.2" fill="none">
<path d="M231.5,4 V17.8 M229.2,15.5 H243 M230,5.8 L231.5,4 L233,5.8 M241.2,14 L243,15.5 L241.2,17"/>
<path d="M259.5,4 V17.8 M257,15.5 H271 M258,5.8 L259.5,4 L261,5.8 M269.2,14 L271,15.5 L269.2,17"/>
<path d="M287.5,4 V17.8 M285,15.5 H299 M286,5.8 L287.5,4 L289,5.8 M297.2,14 L299,15.5 L297.2,17"/>
<path d="M411.5,4 V17.8 M409,15.5 H423 M410,5.8 L411.5,4 L413,5.8 M421.2,14 L423,15.5 L421.2,17"/>
<path d="M439.5,4 V17.8 M437,15.5 H451 M438,5.8 L439.5,4 L441,5.8 M449.2,14 L451,15.5 L449.2,17"/>
</g>
<path d="M237.5,5 V13.7 M237.5,6.3 H240 M235,12.5 H237.5" stroke="#1a8a1a" stroke-width="1.2" fill="none"/>
<path d="M265.5,2 V14" stroke="#119911" stroke-width="1.2"/>
<rect x="263.5" y="4.5" width="4.5" height="7.5" fill="#44ee66" stroke="#119911" stroke-width="1"/>
<path d="M286.2,12.7 Q290,6 292.2,7.2 Q294,8 297.7,11.3" stroke="#2a9a2a" stroke-width="1.1" fill="none"/>
<polygon points="416,6 420,9.5 416,13" fill="#4de04d" stroke="#169a16" stroke-width="1"/>
<path d="M445.5,4 V13.7" stroke="#1a6aa8" stroke-width="1.3"/>
<path d="M446.5,9.4 H450.7 M446.5,9.4 L449,7.2 M446.5,9.4 L449,11.6" stroke="#e0500a" stroke-width="1.5"/>
<!-- zoom in / out -->
<g>
<line x1="327" y1="11.5" x2="332" y2="16.8" stroke="#c89a10" stroke-width="3"/>
<circle cx="323" cy="7.8" r="5.4" fill="#dcf0fb" stroke="#3a7bc8" stroke-width="1.2"/>
<path d="M320,7.8 H326 M323,4.8 V10.8" stroke="#3f86a8" stroke-width="1.6"/>
<line x1="355" y1="11.5" x2="360" y2="16.8" stroke="#c89a10" stroke-width="3"/>
<circle cx="351" cy="7.8" r="5.4" fill="#dcf0fb" stroke="#3a7bc8" stroke-width="1.2"/>
<path d="M348,7.8 H354" stroke="#3f86a8" stroke-width="1.6"/>
</g>
<!-- tile windows -->
<rect x="373" y="2" width="8" height="8" fill="#2a9a2a"/><rect x="381" y="2" width="8" height="8" fill="#1d4fd0"/>
<rect x="373" y="10" width="8" height="8" fill="#1d4fd0"/><rect x="381" y="10" width="8" height="8" fill="#2a9a2a"/>
<g fill="#fff"><rect x="374.5" y="4.5" width="5" height="4"/><rect x="382.5" y="4.5" width="5" height="4"/><rect x="374.5" y="12.5" width="5" height="4"/><rect x="382.5" y="12.5" width="5" height="4"/></g>
<!-- new chart -->
<path d="M470.5,2.5 H479 L482,5.5 V15.5 H470.5 Z" fill="#fff" stroke="#777" stroke-width="1"/>
<path d="M480,9 V19.5 M474.5,14.2 H485.5" stroke="#17c317" stroke-width="4"/>
<path d="M480,9.5 V19 M475,14.2 H485" stroke="#55ee55" stroke-width="2"/>
<polygon points="491.7,9 497.1,9 494.4,12" fill="#000"/>
<!-- clock -->
<circle cx="515.8" cy="9.7" r="6.8" fill="#fff" stroke="#1f6fd0" stroke-width="2.4"/>
<path d="M515.5,6 V10 H518.5" stroke="#333" stroke-width="1.1" fill="none"/>
<polygon points="530.6,9 536,9 533.3,12" fill="#000"/>
<!-- template -->
<rect x="547.5" y="3" width="15" height="13.5" fill="#fff" stroke="#3a6fc0" stroke-width="1.2"/>
<rect x="548" y="3.5" width="14" height="2" fill="#5a90d8"/>
<path d="M548,10.5 H562" stroke="#3a6fc0" stroke-width="1"/>
<path d="M549,9 L552,8 L554,8.5 L557,7.5 L559,8 L561,7" stroke="#a82020" stroke-width="1" fill="none"/>
<path d="M549,14.5 L552,13.5 L554,14 L557,12 L559,13.5 L561,14.5" stroke="#209a20" stroke-width="1" fill="none"/>
<polygon points="569.9,9 575,9 572.45,12" fill="#000"/>
<!-- cursor -->
<polygon points="599.2,2.9 599.2,13.9 601.8,11.5 604,16.8 606,16 603.8,10.8 606.9,10.3" fill="#4a4a4a"/>
<!-- crosshair -->
<path d="M631.5,3 V9.5 M631.5,11.5 V18 M624,10.5 H630.5 M632.5,10.5 H639" stroke="#4a4a4a" stroke-width="1"/>
<!-- lines -->
<path d="M665.5,4 V17" stroke="#4a4a4a" stroke-width="1.3"/>
<path d="M688,10.5 H700" stroke="#4a4a4a" stroke-width="1.3"/>
<path d="M716,17 L728,4.8" stroke="#4a4a4a" stroke-width="1.2"/>
<!-- equidistant channel E -->
<path d="M741.7,11.5 L749.5,4 M747,16.5 L756,8 M744,16 L752,8.5" stroke="#444" stroke-width="1" stroke-dasharray="1.5,0.8"/>
<path d="M744,15.5 L745,10.5 L747,12 L748.5,7.5 L750,9.5 L752.5,2" stroke="#444" stroke-width="1.3" fill="none"/>
<text x="752.5" y="19" font-family="Liberation Sans" font-size="6.5" font-weight="bold" fill="#444">E</text>
<!-- fib F -->
<g stroke="#444" stroke-width="1" stroke-dasharray="1,1">
<path d="M771,3.5 H784 M771,6.5 H784 M771,10.5 H784 M771,14.5 H780"/>
</g>
<text x="780.5" y="19" font-family="Liberation Sans" font-size="6.5" font-weight="bold" fill="#444">F</text>
<!-- A -->
<path d="M802.5,15 L806,6 L809,15 M803.8,12 H808" stroke="#4a4a4a" stroke-width="1.5" fill="none"/>
<!-- T label -->
<rect x="827" y="4" width="12" height="12" fill="none" stroke="#555" stroke-width="1" stroke-dasharray="1,1.6" shape-rendering="crispEdges"/><rect x="826" y="2.5" width="2" height="2" fill="#555"/>
<path d="M830,7 H837 M833.5,7 V14.5" stroke="#4a4a4a" stroke-width="1.6"/>
<!-- arrows icon -->
<polygon points="854.5,8 858.5,3.5 862.5,8" fill="#4a4a4a"/>
<path d="M857,11 L859.3,13.5 L864,8.2" stroke="#4a4a4a" stroke-width="1.4" fill="none"/>
<polygon points="861.5,12.5 865.5,17 869.5,12.5" fill="#4a4a4a"/>
<polygon points="875.4,9 881.3,9 878.35,12" fill="#000"/>
<!-- search -->
<line x1="1614.5" y1="10.7" x2="1611" y2="14.8" stroke="#2255cc" stroke-width="2.2"/>
<circle cx="1618.5" cy="7.3" r="4" fill="#f4f6ff" stroke="#2a62d8" stroke-width="1.3"/>
<!-- bubble -->
<path d="M1636,13 Q1636,7.5 1642,7.5 Q1647,7.5 1647,13 Q1647,17 1641,17 L1638.5,19 L1639,16.5 Q1636,15.5 1636,13 Z" fill="#e8e8f0" stroke="#9a9a9a" stroke-width="0.8"/>
<circle cx="1649.6" cy="7.1" r="8" fill="#e0331c"/>
<text x="1646.4" y="12" font-family="Liberation Serif" font-size="12" fill="#fff">1</text>
</svg>
<div class="tt" style="left:6px;top:2px;font-size:12px;letter-spacing:0px;color:#000">新订单</div>
<div class="tt" style="left:159px;top:2px;font-size:12px;letter-spacing:0px;color:#000">自动交易</div>
<div class="tt" style="left:902px">M1</div>
<div class="tt" style="left:930px">M5</div>
<div class="tt" style="left:956px">M15</div>
<div class="tt" style="left:984px">M30</div>
<div class="tt" style="left:1015px">H1</div>
<div class="tt" style="left:1042px">H4</div>
<div class="tt" style="left:1071px">D1</div>
<div class="tt" style="left:1099px">W1</div>
<div class="tt" style="left:1126px">MN</div>

</body></html>
